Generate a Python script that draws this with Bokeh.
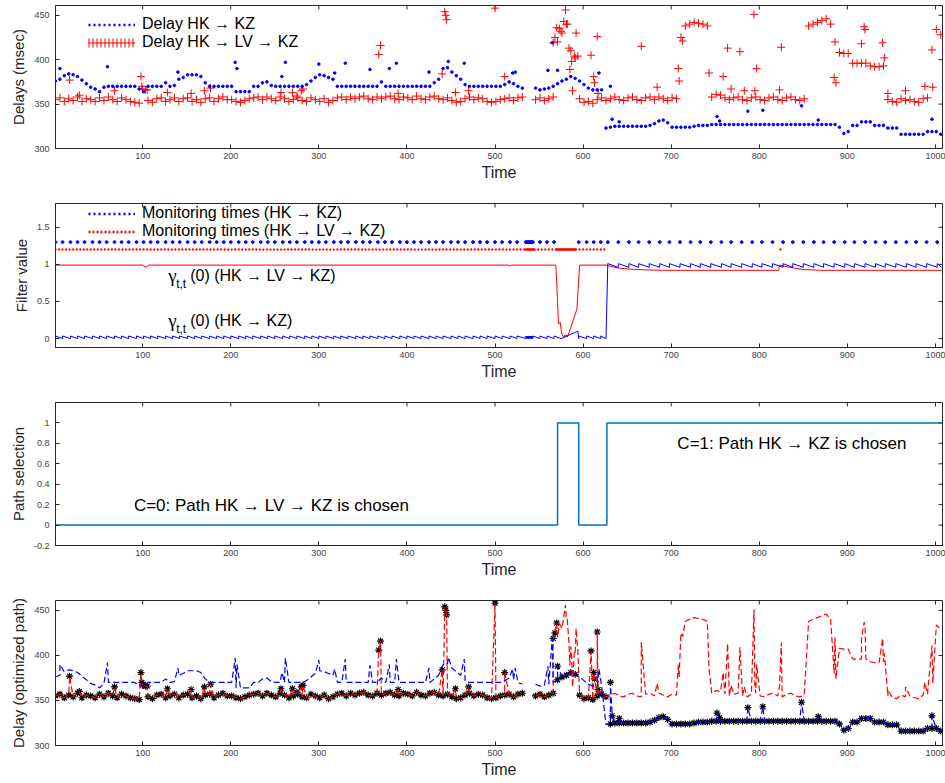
import numpy as np
from bokeh.plotting import figure
from bokeh.models import (Range1d, FixedTicker, Legend, LegendItem, Label, NumeralTickFormatter)
from bokeh.layouts import column
from bokeh.embed import file_html
from bokeh.resources import INLINE

FONT = "Liberation Sans"
nan = float("nan")

# ---------------- data ----------------
time_grid = list(range(1, 1007, 5))  # sampling grid (every 5 time units)

blue_delay = [
    376, 378, 382, 384, 383, 381, 377, 373, 369, 367, 364, 369, 370, 370, 370, 370, 370, 370, 370, 367,
    364, 370, 370, 370, 370, 374, 370, 371, 378, 380, 383, 383, 383, 381, 374, 370, 370, 370, 370, 370,
    370, 364, 364, 364, 364, 370, 370, 374, 375, 371, 370, 370, 370, 370, 370, 370, 370, 372, 376, 380,
    383, 382, 380, 378, 370, 370, 370, 370, 370, 370, 370, 370, 370, 370, 375, 370, 370, 370, 370, 370,
    370, 370, 370, 370, 370, 370, 374, 378, 390, 391, 386, 382, 378, 372, 370, 370, 370, 370, 370, 370,
    370, 370, 372, 375, 373, 370, 368, nan, nan, 368, 366, 367, 368, 370, 373, 376, 378, 381, 379, 376,
    372, 368, 366, 366, 366, 323, 324, 325, 325, 325, 325, 325, 325, 325, 325, 326, 328, 331, 332, 329,
    324, 324, 324, 324, 324, 325, 326, 326, 326, 327, 327, 327, 327, 327, 327, 327, 327, 327, 327, 327,
    327, 327, 327, 327, 327, 327, 327, 327, 327, 327, 327, 327, 327, 327, 327, 327, 327, 327, 324, 317,
    319, 326, 326, 330, 330, 330, 326, 326, 326, 323, 323, 323, 316, 316, 316, 316, 316, 316, 319, 319,
    319, 316,
]

red_delay = [
    355, 357, 353, 356, 354, 358, 353, 356, 355, 353, 357, 354, 358, 355, 353, 357, 355, 353, 352, 351,
    nan, 354, 352, 356, 357, 353, 355, 357, 353, 356, 357, 353, 355, 352, 356, 357, 353, 356, 358, 355,
    355, 353, 352, 354, 356, 357, 358, 355, 358, 356, 354, 358, 356, 353, 355, 357, 354, 353, 357, 355,
    353, 356, 352, 354, 357, 358, 355, 358, 356, 358, 359, 356, 355, 358, 356, 358, 359, 356, 355, 358,
    357, 355, 359, 356, 355, 358, 359, 356, 355, 357, 354, 352, 353, 356, 358, 355, 357, 356, 353, 352,
    353, 355, 356, 357, 354, 357, 358, nan, nan, 355, 357, 354, 356, 358, 420, 430, 440, 410, 402, 356,
    352, 353, 351, 355, 357, 354, 356, 358, 355, 354, 357, 358, 355, 354, 357, 358, 355, 358, 356, 354,
    357, 356, 425, 438, 440, 442, 441, 440, 438, 358, 361, 360, 357, 355, 357, 358, 355, 354, 357, 358,
    355, 354, 357, 358, 355, 354, 357, 358, 355, 354, 356, 438, 440, 442, 444, 446, 440, 420, 408, 407,
    407, 396, 396, 396, 396, 393, 392, 392, 393, 355, 353, 352, 356, 354, 355, 353, 352, 356, 357, 411,
    434, 428,
]

blue_extra_t = [6, 60, 140, 205, 207, 258, 262, 300, 318, 330, 358, 380, 388, 425, 447, 465,
                520, 523, 560, 565, 571, 618, 631, 633, 641, 752, 755, 787, 804, 848, 867, 996]
blue_extra_v = [390, 392, 386, 397, 390, 381, 397, 395, 385, 396, 389, 390, 396, 386, 398, 396,
                385, 386, 388, 419, 388, 385, 370, 333, 330, 336, 331, 342, 343, 348, 332, 333]

red_extra_t = [17, 28, 68, 98, 99, 100, 103, 105, 128, 155, 170, 177, 257, 270, 275, 280, 282,
               368, 370, 390, 440, 443, 444, 445, 455, 470, 500, 511, 566, 568, 570, 573, 575,
               578, 580, 582, 584, 585, 587, 588, 590, 592, 594, 609, 612, 613, 616, 617, 666,
               684, 708, 709, 713, 743, 759, 764, 768, 778, 783, 794, 795, 797, 823, 825, 885,
               887, 916, 919, 920, 940, 942, 946, 966, 988, 997]
red_extra_v = [377, 360, 365, 381, 370, 367, 366, 366, 363, 362, 365, 368, 363, 363, 359, 365, 367,
               406, 416, 362, 384, 454, 450, 445, 363, 365, 458, 381, 419, 425, 436, 435, 432,
               443, 456, 440, 413, 389, 398, 365, 404, 430, 404, 405, 381, 374, 426, 362, 415,
               369, 390, 376, 421, 385, 381, 413, 367, 409, 365, 451, 365, 390, 366, 414, 380,
               374, 418, 437, 434, 419, 402, 362, 365, 370, 369]

# path selection: C switches at these times
switch_times = [571, 595, 627]
path_states = [0, 1, 0, 1]

# monitoring times
blue_monitor = [1, 9, 18, 26, 34, 43, 51, 59, 68, 76, 84, 93, 101, 109, 117, 126, 134, 142, 151, 159,
                167, 176, 184, 192, 200, 209, 217, 225, 234, 242, 250, 259, 267, 275, 284, 292, 300,
                308, 317, 325, 333, 342, 350, 358, 367, 375, 383, 392, 400, 408, 416, 425, 433, 441,
                450, 458, 466, 475, 483, 491, 500, 508, 517, 525, 535, 536, 537, 538, 539, 540, 541,
                542, 543, 551, 559, 567, 595, 604, 612, 620, 628, 640, 652, 663, 675, 687, 698, 710,
                722, 733, 745, 757, 768, 780, 792, 803, 815, 827, 838, 850, 862, 873, 885, 897, 908,
                920, 932, 943, 955, 967, 978, 990, 1002]
red_monitor = [1, 5, 9, 13, 17, 21, 25, 29, 33, 37, 41, 45, 49, 53, 57, 61, 65, 69, 73, 77, 81, 85,
               89, 93, 97, 101, 105, 109, 113, 117, 121, 125, 129, 133, 137, 141, 145, 149, 153, 157,
               161, 165, 169, 173, 177, 181, 185, 189, 193, 197, 201, 205, 209, 213, 217, 221, 225,
               229, 233, 237, 241, 245, 249, 253, 257, 261, 265, 269, 273, 277, 281, 285, 289, 293,
               297, 301, 305, 309, 313, 317, 321, 325, 329, 333, 337, 341, 345, 349, 353, 357, 361,
               365, 369, 373, 377, 381, 385, 389, 393, 397, 401, 405, 409, 413, 417, 421, 425, 429,
               433, 437, 441, 445, 449, 453, 457, 461, 465, 469, 473, 477, 481, 485, 489, 493, 497,
               501, 505, 509, 513, 517, 521, 525, 529, 533, 535, 536, 537, 538, 539, 540, 541, 542,
               543, 544, 545, 549, 553, 557, 561, 565, 569, 570, 571, 572, 573, 574, 575, 576, 577,
               578, 579, 580, 581, 582, 583, 584, 585, 586, 587, 588, 589, 590, 591, 592, 596, 600,
               604, 608, 612, 616, 620, 624, 824]

# filter value gamma_{t,t}(0), HK->LV->KZ (vertices)
red_gamma_t = [1, 100, 103, 107, 515, 517, 519, 569, 571, 572, 574, 575, 576, 578, 579, 580, 581,
               582, 584, 593, 596, 626, 640, 660, 690, 822, 823, 835, 850, 870, 1007]
red_gamma_v = [0.99, 0.99, 0.96, 0.99, 0.99, 0.98, 0.99, 0.99, 0.5, 0.2, 0.22, 0.12, 0.05, 0.02,
               0.05, 0.02, 0.05, 0.02, 0.08, 0.40, 0.99, 0.99, 0.95, 0.93, 0.92, 0.92, 0.99, 0.96,
               0.93, 0.92, 0.92]
# filter value HK->KZ: levels of the saw-tooth between monitoring times
blue_gamma_low_hi = (0.0, 0.035)
blue_gamma_high_hi = (0.96, 1.01)
blue_gamma_bridge_t = [594, 595]
blue_gamma_bridge_v = [0.10, 0.0]

x_ticks = [100, 200, 300, 400, 500, 600, 700, 800, 900, 1000]
delay_ticks = [300, 350, 400, 450]
filter_ticks = [0, 0.5, 1, 1.5]
path_ticks = [-0.2, 0, 0.2, 0.4, 0.6, 0.8, 1]

# ---------------- helpers ----------------
AX = "#262626"
X0, X1 = 1, 1008
FRAME_W = 945 - 55 - 3


def make_fig(height, top, bottom, yr, ylabel, yticks, fmt=None):
    p = figure(width=945, height=height, x_range=Range1d(X0, X1), y_range=Range1d(*yr),
               output_backend="svg", toolbar_location=None,
               min_border_left=55, min_border_right=3, min_border_top=top,
               min_border_bottom=bottom, x_axis_label="Time", y_axis_label=ylabel)
    p.grid.visible = False
    p.outline_line_color = AX
    p.outline_line_width = 1
    p.background_fill_color = "white"
    p.border_fill_color = "white"
    xa = p.xaxis[0]
    ya = p.yaxis[0]
    xa.ticker = FixedTicker(ticks=x_ticks)
    ya.ticker = FixedTicker(ticks=yticks)
    if fmt:
        ya.formatter = NumeralTickFormatter(format=fmt)
    for a in (xa, ya):
        a.major_tick_in = 4
        a.major_tick_out = 0
        a.minor_tick_in = 0
        a.minor_tick_out = 0
        a.axis_line_color = AX
        a.major_tick_line_color = AX
        a.major_label_text_font = FONT
        a.major_label_text_font_size = "9px"
        a.major_label_text_color = "#444444"
        a.axis_label_text_font = FONT
        a.axis_label_text_font_style = "normal"
        a.axis_label_text_color = AX
    xa.major_label_standoff = 4
    xa.axis_label_standoff = 2
    xa.axis_label_text_font_size = "16px"
    ya.major_label_standoff = 6
    ya.axis_label_standoff = 4
    ya.axis_label_text_font_size = "15px"
    # inward ticks on the top and right edges (box axes), placed at the tick values
    frame_h = height - top - bottom
    dy = 4.0 * (yr[1] - yr[0]) / frame_h
    dx = 4.0 * (X1 - X0) / FRAME_W
    p.segment(x0=x_ticks, x1=x_ticks, y0=[yr[1]] * len(x_ticks), y1=[yr[1] - dy] * len(x_ticks),
              line_color=AX, line_width=1)
    p.segment(x0=[X1] * len(yticks), x1=[X1 - dx] * len(yticks), y0=yticks, y1=yticks,
              line_color=AX, line_width=1)
    return p


def legend(items, loc):
    return Legend(items=items, location=loc, glyph_width=47, glyph_height=17, label_height=17,
                  spacing=0, padding=0, margin=0, label_standoff=7, label_text_font=FONT,
                  label_text_font_size="16px", label_text_color="black",
                  background_fill_alpha=0, border_line_alpha=0)


def merged(bt, bv, et, ev):
    t = np.concatenate([np.asarray(bt, float), np.asarray(et, float)])
    v = np.concatenate([np.asarray(bv, float), np.asarray(ev, float)])
    o = np.argsort(t, kind="stable")
    return t[o], v[o]


def saw(ms, lo, hi, end):
    xs, ys = [], []
    for i, m in enumerate(ms):
        nxt = ms[i + 1] if i + 1 < len(ms) else end
        xs += [m, nxt]
        ys += [hi, lo]
    return xs, ys


def state_of(t):
    return np.asarray(path_states)[np.searchsorted(switch_times, t, side="right")]


# legend-only renderers sit outside the visible ranges
HID_X = [-60, -50]

# ---------------- panel 1 ----------------
p1 = make_fig(198, 5, 50, (300, 461), "Delays (msec)", delay_ticks)
bt, bv = merged(time_grid, blue_delay, blue_extra_t, blue_extra_v)
rt, rv = merged(time_grid, red_delay, red_extra_t, red_extra_v)
p1.scatter(rt, rv, marker="cross", size=8, line_color="red", line_width=1)
p1.scatter(bt, bv, marker="circle", size=2.6, fill_color="blue", line_color="blue")
lb = p1.line(x=HID_X, y=[0, 0], line_color="blue", line_width=2.5, line_dash="2 3")
lr1 = p1.line(x=HID_X, y=[0, 0], line_color="red", line_width=1)
lr2 = p1.line(x=HID_X, y=[0, 0], line_color="red", line_width=9, line_dash="1 3")
p1.add_layout(legend([LegendItem(label="Delay HK \u2192 KZ", renderers=[lb]),
                      LegendItem(label="Delay HK \u2192 LV \u2192 KZ", renderers=[lr1, lr2])],
                     (33, 97)))

# ---------------- panel 2 ----------------
p2 = make_fig(198, 5, 49, (-0.12, 1.82), "Filter value", filter_ticks, "0.[0]")
p2.scatter(blue_monitor, [1.3] * len(blue_monitor), marker="circle", size=2.8,
           fill_color="blue", line_color="blue")
p2.scatter(red_monitor, [1.2] * len(red_monitor), marker="circle", size=1.8,
           fill_color="red", line_color="red", line_width=0.5)
p2.line(red_gamma_t, red_gamma_v, line_color="red", line_width=1)
m1 = [m for m in blue_monitor if m <= 567]
m2 = [m for m in blue_monitor if 595 <= m <= 620]
m3 = [m for m in blue_monitor if m >= 628]
x1, y1 = saw(m1, *blue_gamma_low_hi, end=575)
x2, y2 = saw(m2, *blue_gamma_low_hi, end=626)
x3, y3 = saw(m3, *blue_gamma_high_hi, end=1007)
gx = x1 + blue_gamma_bridge_t + x2 + x3
gy = y1 + blue_gamma_bridge_v + y2 + y3
p2.line(gx, gy, line_color="blue", line_width=1)
lmb = p2.line(x=HID_X, y=[-5, -5], line_color="blue", line_width=2.5, line_dash="2 3")
lmr = p2.line(x=HID_X, y=[-5, -5], line_color="red", line_width=2.5, line_dash="2 2")
p2.add_layout(legend([LegendItem(label="Monitoring times (HK \u2192 KZ)", renderers=[lmb]),
                      LegendItem(label="Monitoring times (HK \u2192 LV \u2192 KZ)", renderers=[lmr])],
                     (33, 107)))
for yv, ys, txt in ((0.85, 0.73, "(0) (HK \u2192 LV \u2192 KZ)"), (0.246, 0.13, "(0) (HK \u2192 KZ)")):
    p2.add_layout(Label(x=129, y=yv, text="\u03b3", text_font="Liberation Serif",
                        text_font_size="19px", text_baseline="middle", text_color="black"))
    p2.add_layout(Label(x=138, y=ys, text="t,t", text_font=FONT, text_font_size="12px",
                        text_baseline="middle", text_color="black"))
    p2.add_layout(Label(x=155, y=yv, text=txt, text_font=FONT, text_font_size="16px",
                        text_baseline="middle", text_color="black", x_offset=-1))

# ---------------- panel 3 ----------------
p3 = make_fig(198, 6, 49, (-0.2, 1.2), "Path selection", path_ticks, "0.[0]")
sx = [X0] + switch_times + [X1]
sy = path_states + [path_states[-1]]
p3.step(sx, sy, mode="after", line_color="#0072BD", line_width=1.5)
p3.add_layout(Label(x=90, y=0.19, text="C=0: Path HK \u2192 LV \u2192 KZ is chosen", text_font=FONT,
                    text_font_size="17px", text_baseline="middle", text_color="black"))
p3.add_layout(Label(x=707, y=0.80, text="C=1: Path HK \u2192 KZ is chosen", text_font=FONT,
                    text_font_size="17px", text_baseline="middle", text_color="black"))

# ---------------- panel 4 ----------------
p4 = make_fig(189, 6, 38, (300, 461), "Delay (optimized path)", delay_ticks)
rs = state_of(rt)
bs = state_of(bt)
rsel = (rs == 0) & ~np.isnan(rv)
bsel = (bs == 1) & ~np.isnan(bv)
st = np.concatenate([rt[rsel], bt[bsel]])
sv = np.concatenate([rv[rsel], bv[bsel]])
p4.scatter(st, sv, marker="asterisk", size=7, line_color="black", line_width=1.2)
p4.line(rt, rv, line_color="red", line_width=1.2, line_dash="6 3")
p4.line(bt, bv, line_color="blue", line_width=1.2, line_dash="6 3")

layout = column(p1, p2, p3, p4, spacing=0)
open("out.html", "w").write(file_html(layout, INLINE))
